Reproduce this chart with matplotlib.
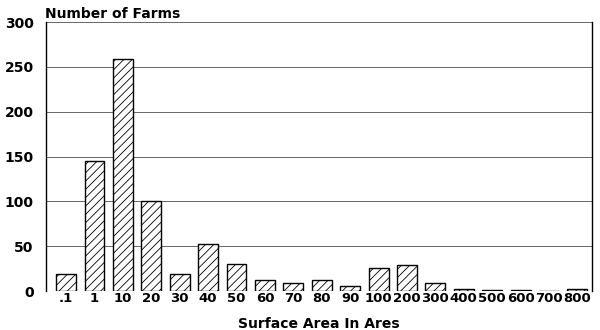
import numpy as np
import matplotlib.pyplot as plt

# data
categories = ['.1', '1', '10', '20', '30', '40', '50', '60', '70', '80',
              '90', '100', '200', '300', '400', '500', '600', '700', '800']
farms = [19, 145, 259, 101, 19, 53, 30, 12, 9, 12,
         6, 26, 29, 9, 2, 1, 1, 0.5, 2]
yticks = [0, 50, 100, 150, 200, 250, 300]

plt.rcParams['font.family'] = ['DejaVu Sans']
plt.rcParams['hatch.linewidth'] = 0.6

fig = plt.figure(figsize=(6, 3.3), dpi=100)
ax = fig.add_axes([0.077, 0.118, 0.910, 0.815])

x = np.arange(len(categories))
ax.bar(x, farms, width=0.7, color='white', edgecolor='black',
       linewidth=1.0, hatch='////', zorder=3)

ax.set_xlim(-0.7, 18.52)
ax.set_ylim(0, 300)
ax.set_yticks(yticks)
ax.set_yticklabels([str(t) for t in yticks], fontsize=10, fontweight='bold')
ax.set_xticks(x)
ax.set_xticklabels(categories, fontsize=9.5, fontweight='bold')
ax.tick_params(length=0)
ax.tick_params(axis='x', pad=1)
ax.tick_params(axis='y', pad=9)

ax.grid(axis='y', color='#666666', linewidth=0.7, zorder=0)
ax.spines['top'].set_visible(False)
ax.spines['bottom'].set_visible(False)
ax.spines['left'].set_linewidth(1.0)
ax.spines['right'].set_linewidth(1.0)

ax.set_xlabel('Surface Area In Ares', fontsize=10, fontweight='bold', labelpad=8)
fig.text(0.075, 0.935, 'Number of Farms', fontsize=10, fontweight='bold',
         ha='left', va='bottom')

fig.savefig('out.png', dpi=100)
